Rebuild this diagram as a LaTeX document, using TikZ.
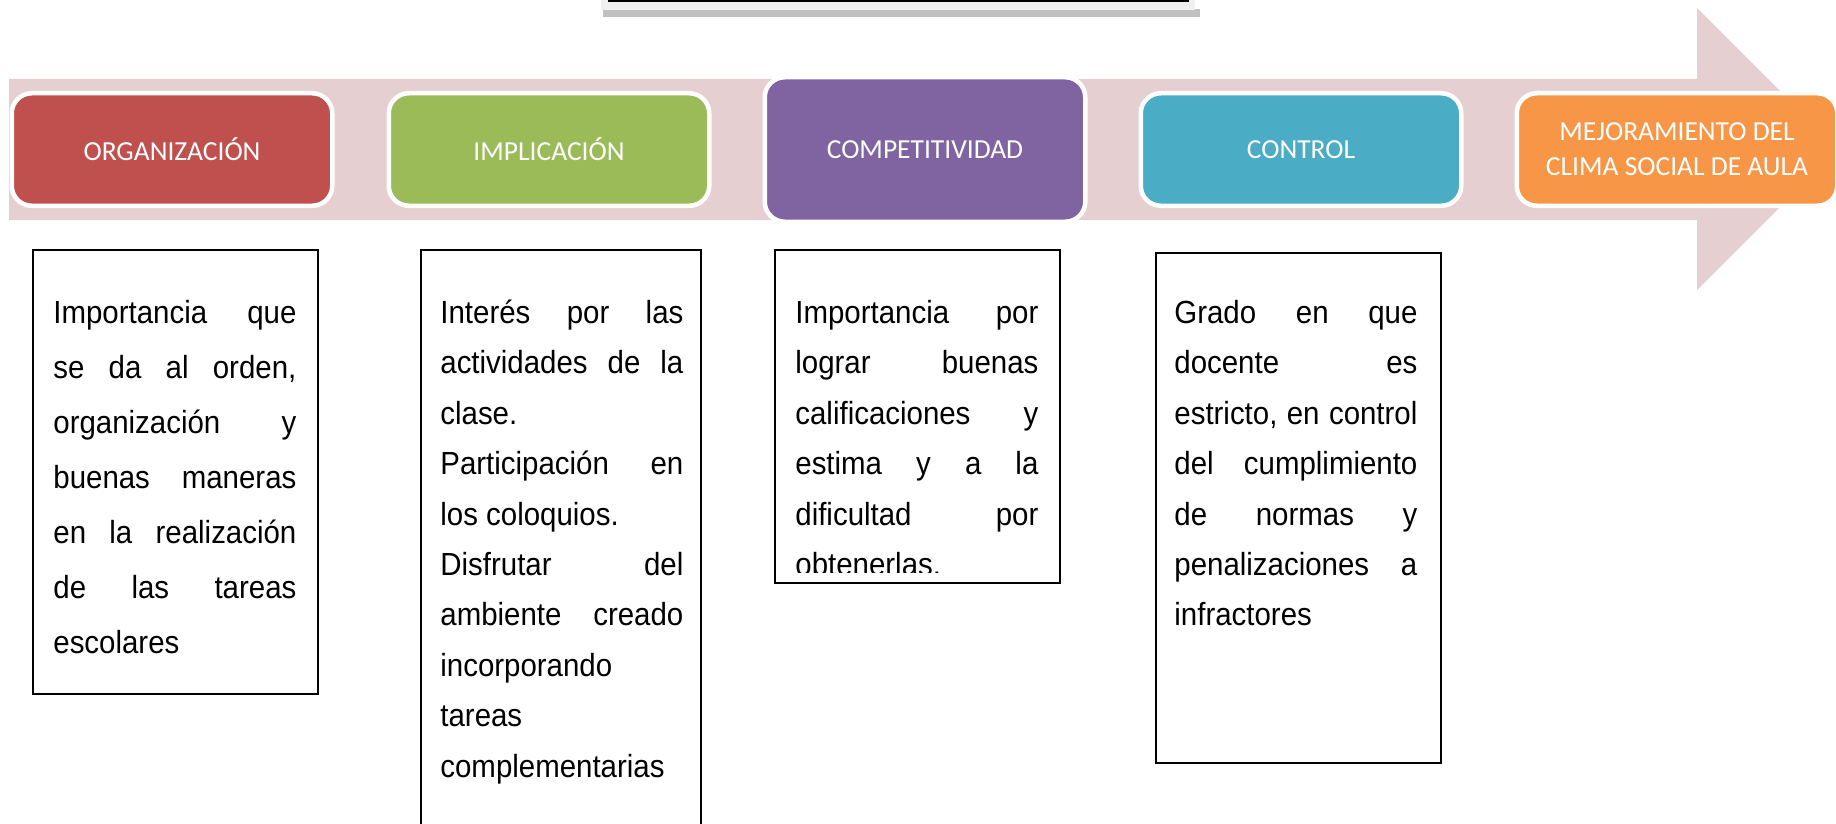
\documentclass[tikz,border=0pt]{standalone}
\usepackage{fontspec}
\setmainfont{Liberation Sans}[FakeStretch=0.92]
\newfontfamily\carlito{Carlito}
\usetikzlibrary{calc}
\definecolor{band}{RGB}{230,207,208}
\definecolor{cred}{RGB}{192,80,77}
\definecolor{cgreen}{RGB}{155,187,89}
\definecolor{cpurple}{RGB}{128,100,162}
\definecolor{cblue}{RGB}{75,172,198}
\definecolor{corange}{RGB}{247,150,70}
\definecolor{toplight}{RGB}{240,240,240}
\definecolor{topshadow}{RGB}{192,192,192}
\newcommand{\jl}[1]{\hbox to 121.5pt{\rule{0pt}{12pt}#1}}
\begin{document}
\begin{tikzpicture}[x=0.5pt,y=-0.5pt,
  cat/.style={draw=white, line width=2.25pt, rounded corners=10pt,
    minimum width=160.25pt, minimum height=56.25pt, text=white,
    font=\carlito\fontsize{13.75}{17.5}\selectfont, align=center, inner sep=0pt},
  txtbox/.style={draw=black, line width=1.1pt, inner sep=0pt, anchor=north west},
  body/.style={anchor=north west, inner sep=0pt, font=\fontsize{16}{18}\selectfont}]
\useasboundingbox (0,0) rectangle (1836,824);
% partial top box
\fill[topshadow] (603,9) rectangle (1200,17);
\fill[toplight] (601,0) rectangle (1195,10);
\fill[black] (608,0) rectangle (1189,2);
% big arrow
\fill[band] (9,79) -- (1697,79) -- (1697,8) -- (1838,149) -- (1697,290) -- (1697,220) -- (9,220) -- cycle;
% category boxes
\node[cat, fill=cred] (org) at (172,149.5) {ORGANIZACIÓN};
\node[cat, fill=cgreen] (imp) at (549,149.5) {IMPLICACIÓN};
\node[cat, fill=cpurple, minimum height=72.25pt] (comp) at (925,149.5) {COMPETITIVIDAD};
\node[cat, fill=cblue] (ctrl) at (1301,149.5) {CONTROL};
\node[cat, fill=corange] (mej) at (1677,149.5) {MEJORAMIENTO DEL\\CLIMA SOCIAL DE AULA};
% text boxes
\node[txtbox, minimum width=142.5pt, minimum height=222pt] (bA) at (32,249) {};
\node[txtbox, minimum width=140pt, minimum height=305pt] (bB) at (420,249) {};
\node[txtbox, minimum width=142.5pt, minimum height=166.5pt] (bC) at (774,249) {};
\node[txtbox, minimum width=142.5pt, minimum height=255pt] (bD) at (1155,252) {};
\node[body] (tA) at ($(bA.north west)+(21,50)$) {\vbox{\baselineskip=27.5pt
  \jl{Importancia\hfill que}
  \jl{se\hfill da\hfill al\hfill orden,}
  \jl{organización\hfill y}
  \jl{buenas\hfill maneras}
  \jl{en\hfill la\hfill realización}
  \jl{de\hfill las\hfill tareas}
  \jl{escolares\hfill}}};
\node[body] (tB) at ($(bB.north west)+(20,50)$) {\vbox{\baselineskip=25.2pt
  \jl{Interés\hfill por\hfill las}
  \jl{actividades\hfill de\hfill la}
  \jl{clase.\hfill}
  \jl{Participación\hfill en}
  \jl{los coloquios.\hfill}
  \jl{Disfrutar\hfill del}
  \jl{ambiente\hfill creado}
  \jl{incorporando\hfill}
  \jl{tareas\hfill}
  \jl{complementarias\hfill}}};
\begin{scope}
\clip (bC.north west) rectangle ($(bC.south east)+(0,-12)$);
\node[body] (tC) at ($(bC.north west)+(21,50)$) {\vbox{\baselineskip=25.2pt
  \jl{Importancia\hfill por}
  \jl{lograr\hfill buenas}
  \jl{calificaciones\hfill y}
  \jl{estima\hfill y\hfill a\hfill la}
  \jl{dificultad\hfill por}
  \jl{obtenerlas.\hfill}}};
\end{scope}
\node[body] (tD) at ($(bD.north west)+(19,47)$) {\vbox{\baselineskip=25.2pt
  \jl{Grado\hfill en\hfill que}
  \jl{docente\hfill es}
  \jl{estricto,\hfill en\hfill control}
  \jl{del\hfill cumplimiento}
  \jl{de\hfill normas\hfill y}
  \jl{penalizaciones\hfill a}
  \jl{infractores\hfill}}};
\end{tikzpicture}
\end{document}
